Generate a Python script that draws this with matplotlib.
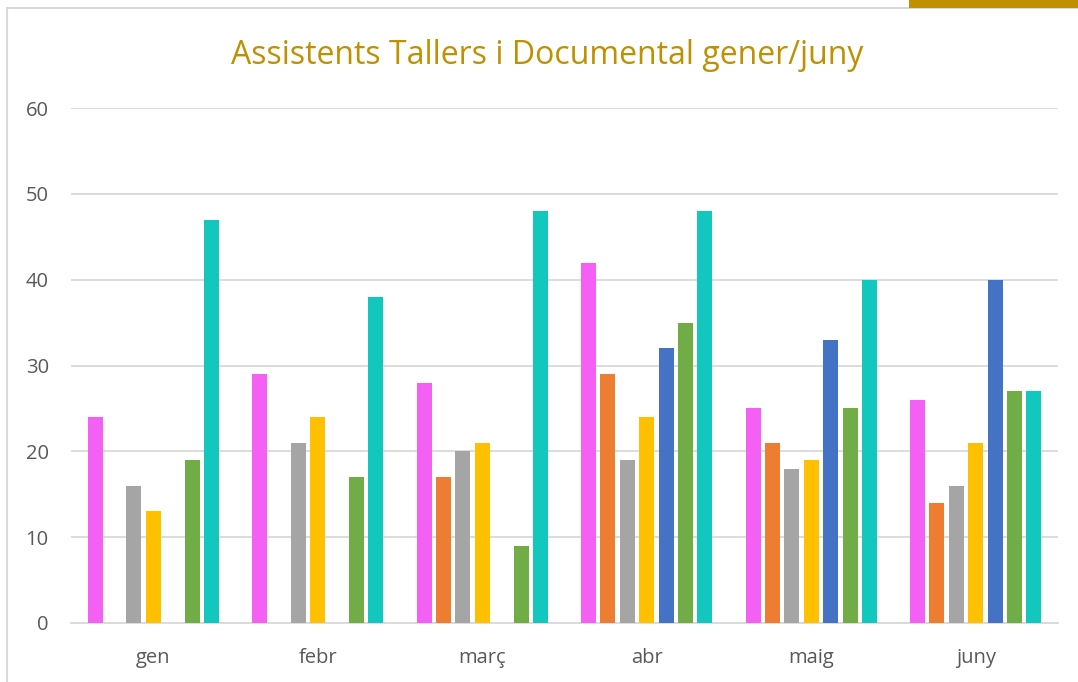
import matplotlib
matplotlib.use("Agg")
import matplotlib.pyplot as plt
import numpy as np
from matplotlib.patches import Rectangle

months = ["gen", "febr", "març", "abr", "maig", "juny"]
s_pink = [24, 29, 28, 42, 25, 26]
s_orange = [0, 0, 17, 29, 21, 14]
s_gray = [16, 21, 20, 19, 18, 16]
s_yellow = [13, 24, 21, 24, 19, 21]
s_blue = [0, 0, 0, 32, 33, 40]
s_green = [19, 17, 9, 35, 25, 27]
s_teal = [47, 38, 48, 48, 40, 27]
yticks = [0, 10, 20, 30, 40, 50, 60]

series = [s_pink, s_orange, s_gray, s_yellow, s_blue, s_green, s_teal]
colors = ["#F45FF4", "#ED7D31", "#A5A5A5", "#FFC000", "#4472C4", "#70AD47", "#12C8BE"]

plt.rcParams['font.family'] = ['Open Sans', 'DejaVu Sans']
fig = plt.figure(figsize=(10.78, 6.82), dpi=100)
ax = fig.add_axes([71/1078, 1-623/682, (1058-71)/1078, (623-108)/682])

x = np.arange(len(months))
step = 19.4/164.5
width = 15/164.5
n = len(series)
for i, (vals, c) in enumerate(zip(series, colors)):
    ax.bar(x + (i - (n-1)/2)*step, vals, width=width, color=c, zorder=3)

ax.set_xlim(-0.5, len(months)-0.5)
ax.set_ylim(0, 60)
ax.set_yticks(yticks)
ax.set_xticks(x)
ax.set_xticklabels(months)
ax.grid(axis='y', color='#D9D9D9', linewidth=1.3, zorder=0)
for s in ['top', 'right', 'left']:
    ax.spines[s].set_visible(False)
ax.spines['bottom'].set_color('#D9D9D9')
ax.spines['bottom'].set_linewidth(1.3)
ax.tick_params(axis='both', length=0, labelsize=14.5, labelcolor='#595959')
ax.tick_params(axis='y', pad=16)
ax.tick_params(axis='x', pad=18)

fig.text(547/1078, 1-55/682, "Assistents Tallers i Documental gener/juny",
         ha='center', va='center', fontsize=23, color='#BF9000')

# frame and accent
fig.add_artist(Rectangle((7/1078, -0.01), 1.1, 1-8/682+0.01, transform=fig.transFigure,
                         fill=False, edgecolor='#D9D9D9', linewidth=1.5))
fig.add_artist(Rectangle((909/1078, 1-8/682), 1, 8/682, transform=fig.transFigure,
                         facecolor='#BF9000', edgecolor='none'))

fig.savefig("out.png", dpi=100)
